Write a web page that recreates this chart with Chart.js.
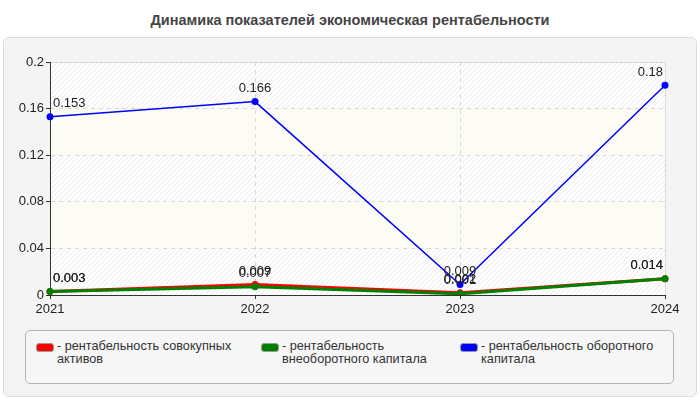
<!DOCTYPE html>
<html lang="ru">
<head>
<meta charset="UTF-8">
<title>Динамика показателей</title>
<script src="https://cdn.jsdelivr.net/npm/chart.js"></script>
<style>
    body { margin: 0; width: 700px; height: 400px; background: #fff; font-family: Arial, "Liberation Sans", sans-serif; position: relative; overflow: hidden; }
    .titulo { position: absolute; top: 12px; left: 0; width: 700px; text-align: center; font-weight: bold; font-size: 14.5px; color: #454545; }
    .painel { position: absolute; left: 3px; top: 37px; width: 692px; height: 358px; background: #f4f4f4; border: 1px solid #dcdcdc; border-radius: 6px; }
    .grafico { position: absolute; left: 0; top: 40px; width: 700px; height: 280px; }
    .legenda { position: absolute; left: 25px; top: 330px; width: 647px; height: 52px; border: 1px solid #b4b4b4; border-radius: 5px; background: #f6f6f6; }
    .item { position: absolute; top: 9px; font-size: 12.7px; color: #333; line-height: 13px; }
    .item .cor { position: absolute; left: 0; top: 3px; width: 16px; height: 7px; border-radius: 3px; border: 1px solid #999; }
    .item .txt { position: absolute; left: 21px; top: 0; }
</style>
</head>
<body>
    <div class="titulo">Динамика показателей экономическая рентабельности</div>
    <div class="painel"></div>
    <div class="grafico"><canvas id="rentab"></canvas></div>
    <div class="legenda" id="legenda"></div>

<script>
    // dados
    var anos = ['2021', '2022', '2023', '2024'];
    var rentAtivos = [0.003, 0.009, 0.002, 0.014];
    var rentVneob = [0.003, 0.007, 0.001, 0.014];
    var rentOborot = [0.153, 0.166, 0.009, 0.18];
    var ticksY = [0, 0.04, 0.08, 0.12, 0.16, 0.2];

    var nomes = [
        'рентабельность совокупных активов',
        'рентабельность внеоборотного капитала',
        'рентабельность оборотного капитала'
    ];
    var cores = ['#ff0000', '#008000', '#0000ff'];

    // legenda em html
    var posLegenda = [10, 235, 434];
    var largTexto = [190, 172, 190];
    var legenda = document.getElementById('legenda');
    nomes.forEach(function (nome, i) {
        var d = document.createElement('div');
        d.className = 'item';
        d.style.left = posLegenda[i] + 'px';
        d.innerHTML = '<span class="cor" style="background:' + cores[i] + '"></span>' +
            '<span class="txt" style="width:' + largTexto[i] + 'px">- ' + nome + '</span>';
        legenda.appendChild(d);
    });

    // padrao hachurado do fundo
    function criarHachura() {
        var c = document.createElement('canvas');
        c.width = 5; c.height = 5;
        var g = c.getContext('2d');
        g.fillStyle = '#ffffff';
        g.fillRect(0, 0, 5, 5);
        g.strokeStyle = '#e9e9e9';
        g.lineWidth = 1;
        g.beginPath();
        g.moveTo(0, 5); g.lineTo(5, 0);
        g.moveTo(-1, 1); g.lineTo(1, -1);
        g.moveTo(4, 6); g.lineTo(6, 4);
        g.stroke();
        return g.createPattern(c, 'repeat');
    }

    const fundo = {
        id: 'fundo',
        beforeDraw(chart) {
            const ctx = chart.ctx;
            const a = chart.chartArea;
            const y = chart.scales.y;
            const hach = criarHachura();
            ctx.save();
            for (let i = 0; i < ticksY.length - 1; i++) {
                const y1 = y.getPixelForValue(ticksY[i]);
                const y2 = y.getPixelForValue(ticksY[i + 1]);
                ctx.fillStyle = (i % 2 == 0) ? hach : '#fcfcf4';
                ctx.fillRect(a.left, y2, a.right - a.left, y1 - y2);
            }
            ctx.strokeStyle = '#dcdcdc';
            ctx.lineWidth = 1;
            ctx.beginPath();
            ctx.moveTo(a.left, a.top + 0.5);
            ctx.lineTo(a.right + 0.5, a.top + 0.5);
            ctx.lineTo(a.right + 0.5, a.bottom);
            ctx.stroke();
            ctx.restore();
        }
    };

    const rotulos = {
        id: 'rotulos',
        afterDatasetsDraw(chart) {
            const ctx = chart.ctx;
            const a = chart.chartArea;
            ctx.save();
            ctx.font = '13px Arial, "Liberation Sans", sans-serif';
            ctx.fillStyle = '#222';
            ctx.textBaseline = 'middle';
            ctx.textAlign = 'left';
            chart.data.datasets.forEach(function (ds, i) {
                const meta = chart.getDatasetMeta(i);
                meta.data.forEach(function (pt, j) {
                    const txt = String(ds.data[j]);
                    const w = ctx.measureText(txt).width;
                    let x = pt.x - w / 2;
                    if (x < a.left + 3) x = a.left + 3;
                    if (x + w > a.right - 2) x = a.right - 2 - w;
                    ctx.fillText(txt, x, pt.y - 13);
                });
            });
            ctx.restore();
        }
    };

    const ctxGrafico = document.getElementById('rentab');

    new Chart(ctxGrafico, {
        type: 'line',
        data: {
            labels: anos,
            datasets: [
                {
                    label: nomes[0],
                    data: rentAtivos,
                    borderColor: cores[0],
                    backgroundColor: cores[0],
                    borderWidth: 3,
                    pointRadius: 3.5,
                    pointBorderWidth: 0,
                    order: 3
                },
                {
                    label: nomes[1],
                    data: rentVneob,
                    borderColor: cores[1],
                    backgroundColor: cores[1],
                    borderWidth: 3,
                    pointRadius: 3.5,
                    pointBorderWidth: 0,
                    order: 2
                },
                {
                    label: nomes[2],
                    data: rentOborot,
                    borderColor: cores[2],
                    backgroundColor: cores[2],
                    borderWidth: 1.5,
                    pointRadius: 3.5,
                    pointBorderWidth: 0,
                    order: 1
                }
            ]
        },
        options: {
            responsive: true,
            maintainAspectRatio: false,
            animation: false,
            layout: { padding: { top: 22, right: 35, left: 0, bottom: 0 } },
            plugins: {
                legend: { display: false },
                tooltip: { enabled: false }
            },
            scales: {
                x: {
                    offset: false,
                    grid: { color: '#d8d8d8', tickColor: '#333', tickLength: 4, tickBorderDash: [] },
                    border: { color: '#333', width: 1, dash: [4, 4] },
                    ticks: { color: '#222', font: { size: 13, family: 'Arial, "Liberation Sans", sans-serif' }, padding: 3, maxRotation: 0 },
                    afterFit: function (s) { s.height = 25; }
                },
                y: {
                    min: 0,
                    max: 0.2,
                    afterBuildTicks: function (s) { s.ticks = ticksY.map(function (v) { return { value: v }; }); },
                    grid: { color: '#d8d8d8', tickColor: '#333', tickLength: 4, tickBorderDash: [] },
                    border: { color: '#333', width: 1, dash: [4, 4] },
                    ticks: {
                        color: '#222',
                        font: { size: 13, family: 'Arial, "Liberation Sans", sans-serif' },
                        padding: 2,
                        callback: function (v) { return String(+v.toFixed(2)); }
                    },
                    afterFit: function (s) { s.width = 50; }
                }
            }
        },
        plugins: [fundo, rotulos]
    });
</script>
</body>
</html>
